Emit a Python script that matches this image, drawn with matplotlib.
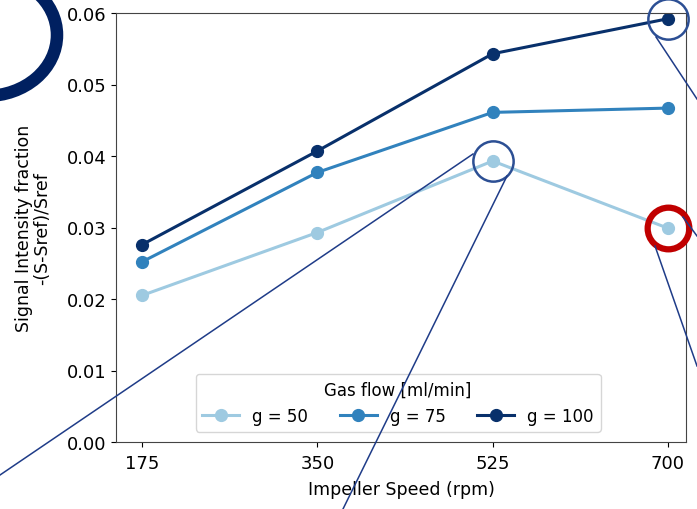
import matplotlib.pyplot as plt
from matplotlib.patches import Ellipse

speed = [175, 350, 525, 700]
g50 = [0.0205, 0.0293, 0.0393, 0.0299]
g75 = [0.0252, 0.0377, 0.0461, 0.0467]
g100 = [0.0276, 0.0407, 0.0543, 0.0592]
labels = ['g = 50', 'g = 75', 'g = 100']
colors = ['#9ecae1', '#3182bd', '#08306b']

fig = plt.figure(figsize=(6.97, 5.10), dpi=100)
ax = fig.add_axes([116/697, 1-443/510, 570/697, 429/510])

for ys, lab, col in zip([g50, g75, g100], labels, colors):
    ax.plot(speed, ys, '-o', color=col, lw=2.2, ms=8.5, label=lab)

ax.set_xlim(149, 718)
ax.set_ylim(0, 0.06)
ax.set_xticks(speed)
ax.set_yticks([0.0, 0.01, 0.02, 0.03, 0.04, 0.05, 0.06])
ax.yaxis.set_major_formatter(plt.FormatStrFormatter('%.2f'))
ax.tick_params(labelsize=13)
ax.tick_params(axis='x', pad=5)
for s in ax.spines.values():
    s.set_color('#444444')
ax.set_xlabel('Impeller Speed (rpm)', fontsize=12.5, labelpad=6)
ax.set_ylabel('Signal Intensity fraction\n-(S-Sref)/Sref', fontsize=12.5,
              labelpad=11, linespacing=1.05)
leg = ax.legend(title='Gas flow [ml/min]', ncol=3, loc='lower center',
                fontsize=12, title_fontsize=12, bbox_to_anchor=(0.495, 0.005),
                handlelength=2.2, columnspacing=1.9)

# highlight circles around points
ax.plot(speed[2], g50[2], 'o', ms=29, mfc='none', mec='#2c4f94', mew=1.8, clip_on=False, zorder=5)
ax.plot(speed[3], g100[3], 'o', ms=29, mfc='none', mec='#2c4f94', mew=1.8, clip_on=False, zorder=5)
ax.plot(speed[3], g50[3], 'o', ms=30, mfc='none', mec='#c00000', mew=4.5, clip_on=False, zorder=5)

# overlay in pixel space for slide callout lines
ov = fig.add_axes([0, 0, 1, 1], zorder=10)
ov.set_xlim(0, 697)
ov.set_ylim(510, 0)
ov.axis('off')
ov.patch.set_alpha(0)
lc = '#1f3c88'
ov.plot([473, 0], [155, 476], color=lc, lw=1.1)
ov.plot([507, 343], [177, 510], color=lc, lw=1.1)
ov.plot([656, 697], [38, 100], color=lc, lw=1.1)
ov.plot([683, 697], [218, 237], color=lc, lw=1.1)
ov.plot([655, 697], [247, 367], color=lc, lw=1.1)
ov.add_patch(Ellipse((-14, 36), 142, 122, fill=False, ec='#002060', lw=9))

fig.savefig('out.png', dpi=100)
